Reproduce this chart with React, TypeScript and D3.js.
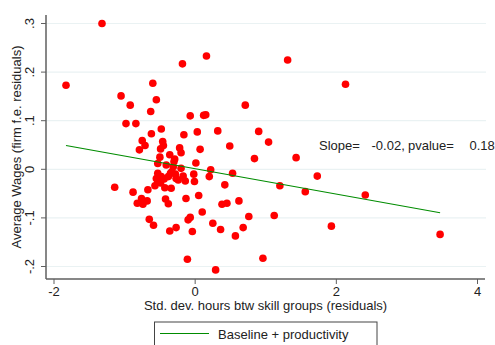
import React from "react";
import * as d3 from "d3";

const xs: number[] = [
  -1.32, -1.83, -0.18, 0.16, 1.31, 2.13, 0.71, -0.60, -1.05, -0.92,
  -0.55, -0.63, -0.98, -0.84, -0.07, 0.12, 0.15, -0.48, -0.62, -0.16,
  0.03, 0.32, 0.90, 1.04, -0.75, -0.71, -0.79, -0.46, -0.45, -0.49,
  -0.22, -0.20, 0.07, 0.49, -0.50, -0.29, 0.01, 0.84, 1.43, -0.53,
  -0.41, -0.30, -0.31, -0.20, 0.22, -0.33, -0.35, -0.53, -0.02, 0.20,
  0.53, -0.28, -0.38, -0.48, -0.55, -0.27, -0.44, -0.24, -0.53, -0.49,
  -0.14, -0.01, 0.42, 1.73, 1.20, 1.56, 2.41, -0.57, -0.43, -0.34,
  -0.67, -1.14, -0.88, -0.82, -0.76, -0.74, -0.68, -0.42, -0.38, -0.13,
  0.05, 0.38, 0.45, 0.62, 0.10, -0.07, -0.10, 0.25, 0.76, 1.12,
  0.68, 1.93, -0.65, -0.59, -0.36, -0.27, -0.04, 0.36, 0.57, 0.96,
  -0.11, 0.29, 3.47, -0.17, -0.36,
];
const ys: number[] = [
  0.300, 0.173, 0.217, 0.233, 0.225, 0.175, 0.132, 0.177, 0.151, 0.132,
  0.143, 0.119, 0.094, 0.094, 0.110, 0.111, 0.112, 0.083, 0.073, 0.071,
  0.077, 0.079, 0.078, 0.056, 0.059, 0.049, 0.040, 0.057, 0.049, 0.042,
  0.044, 0.034, 0.041, 0.048, 0.025, 0.021, 0.013, 0.022, 0.024, 0.012,
  0.009, 0.016, 0.005, 0.002, -0.001, -0.005, -0.008, -0.008, -0.010, -0.015,
  -0.008, -0.010, -0.015, -0.015, -0.019, -0.019, -0.020, -0.022, -0.026, -0.028,
  -0.024, -0.025, -0.032, -0.014, -0.034, -0.046, -0.053, -0.034, -0.038, -0.039,
  -0.042, -0.037, -0.047, -0.070, -0.060, -0.072, -0.065, -0.061, -0.071, -0.060,
  -0.054, -0.072, -0.070, -0.065, -0.088, -0.099, -0.104, -0.111, -0.097, -0.095,
  -0.120, -0.117, -0.103, -0.115, -0.127, -0.120, -0.128, -0.124, -0.137, -0.183,
  -0.185, -0.207, -0.134, -0.014, 0.030,
];

const fitX: number[] = [-1.83, 3.47];
const fitY: number[] = [0.0488, -0.0893];

const xTicks: number[] = [-2, 0, 2, 4];
const xTickLabels: string[] = ["-2", "0", "2", "4"];
const yTicks: number[] = [-0.2, -0.1, 0, 0.1, 0.2, 0.3];
const yTickLabels: string[] = ["-.2", "-.1", "0", ".1", ".2", ".3"];

const xTitle = "Std. dev. hours btw skill groups (residuals)";
const yTitle = "Average Wages (firm f.e. residuals)";
const legendLabel = "Baseline + productivity";
const slopeLabel = "Slope=";
const slopeValue = "-0.02,";
const pLabel = "pvalue=";
const pValue = "0.18";

export default function App() {
  const W = 495, H = 345;
  const x = d3.scaleLinear().domain([-2, 4]).range([54, 477.5]);
  const y = d3.scaleLinear().domain([-0.2, 0.3]).range([266.5, 23.5]);
  const left = 46, right = 486, top = 15, bottom = 279;
  const font = "Liberation Sans, Arial, sans-serif";
  const fs = 13;
  const axisColor = "#5f5f5f";
  const line = d3.line<number>().x((d, i) => x(fitX[i])).y((d, i) => y(fitY[i]));
  const pts = xs.map((v, i) => [v, ys[i]]);

  return (
    <div style={{ position: "absolute", left: 0, top: 0 }}>
      <svg width={W} height={H} style={{ display: "block", background: "#fff" }}>
        <rect x={0} y={0} width={W} height={H} fill="#fff" />
        {yTicks.map((t) => (
          <line key={"g" + t} x1={left} x2={right} y1={y(t)} y2={y(t)} stroke="#eaf2f3" strokeWidth={1.2} />
        ))}
        <line x1={left} x2={left} y1={top} y2={bottom} stroke={axisColor} strokeWidth={1.5} />
        <line x1={left} x2={485} y1={bottom} y2={bottom} stroke={axisColor} strokeWidth={1.5} />
        {yTicks.map((t, i) => (
          <g key={"yt" + t}>
            <line x1={left - 5} x2={left} y1={y(t)} y2={y(t)} stroke={axisColor} strokeWidth={1} />
            <text
              transform={`translate(34,${y(t)}) rotate(-90)`}
              textAnchor="middle"
              fontFamily={font}
              fontSize={fs}
              fill="#222"
            >
              {yTickLabels[i]}
            </text>
          </g>
        ))}
        {xTicks.map((t, i) => (
          <g key={"xt" + t}>
            <line x1={x(t)} x2={x(t)} y1={bottom} y2={bottom + 5} stroke={axisColor} strokeWidth={1} />
            <text x={x(t)} y={bottom + 17} textAnchor="middle" fontFamily={font} fontSize={fs} fill="#222">
              {xTickLabels[i]}
            </text>
          </g>
        ))}
        <text x={265.5} y={310} textAnchor="middle" fontFamily={font} fontSize={fs} fill="#222">
          {xTitle}
        </text>
        <text
          transform={`translate(21,${(top + bottom) / 2}) rotate(-90)`}
          textAnchor="middle"
          fontFamily={font}
          fontSize={fs}
          fill="#222"
        >
          {yTitle}
        </text>
        {pts.map((p, i) => (
          <circle key={i} cx={x(p[0])} cy={y(p[1])} r={3.8} fill="#ff0000" />
        ))}
        <path d={line(fitX) || ""} fill="none" stroke="#008c00" strokeWidth={1.1} />
        <text x={319} y={150} fontFamily={font} fontSize={fs} fill="#222">{slopeLabel}</text>
        <text x={371.5} y={150} fontFamily={font} fontSize={fs} fill="#222">{slopeValue}</text>
        <text x={408} y={150} fontFamily={font} fontSize={fs} fill="#222">{pLabel}</text>
        <text x={469.5} y={150} fontFamily={font} fontSize={fs} fill="#222">{pValue}</text>
        <rect x={154.5} y={322} width={222.5} height={30} fill="#fff" stroke="#444" strokeWidth={1} />
        <line x1={160} x2={209} y1={333.5} y2={333.5} stroke="#008c00" strokeWidth={1.1} />
        <text x={218} y={338.5} fontFamily={font} fontSize={fs} fill="#222">{legendLabel}</text>
      </svg>
    </div>
  );
}
